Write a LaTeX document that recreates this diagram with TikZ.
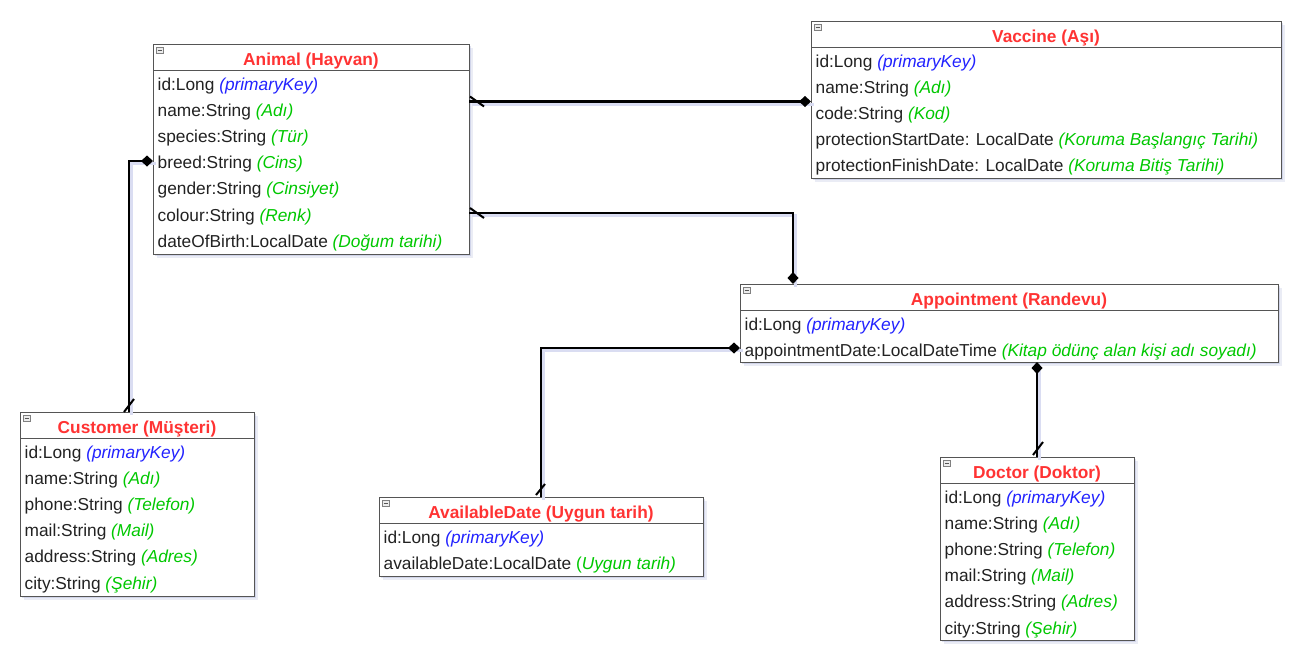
\documentclass[tikz,border=0pt]{standalone}
\usepackage{fontspec}
\setmainfont{Liberation Sans}
\usetikzlibrary{arrows.meta,calc,shadows}

\definecolor{hdrred}{HTML}{FF3333}
\definecolor{keyblue}{HTML}{2222FF}
\definecolor{cmtgreen}{HTML}{00C800}
\definecolor{ink}{HTML}{222222}
\definecolor{edgegray}{HTML}{555555}
\definecolor{shade}{HTML}{8C96C8}
\definecolor{lineshade}{HTML}{DADDF2}

% attribute annotations
\newcommand\pk{\textcolor{keyblue}{\itshape(primaryKey)}}
\newcommand\cm[1]{\textcolor{cmtgreen}{\itshape(#1)}}

\tikzset{
  box/.style={draw=edgegray, line width=0.9pt, fill=white, inner sep=0pt, outer sep=0pt,
    drop shadow={shadow xshift=4pt, shadow yshift=-4pt, fill=shade, opacity=0.18},
    drop shadow={shadow xshift=2pt, shadow yshift=-2pt, fill=shade, opacity=0.28}},
  hdr/.style={anchor=base, inner sep=0pt, text=hdrred, font=\fontsize{17.3}{20}\selectfont\bfseries},
  attr/.style={anchor=base west, inner sep=0pt, text=ink, font=\fontsize{17.3}{20}\selectfont},
  icon/.style={draw=gray, fill=gray!15, line width=0.6pt},
  conn/.style={draw=black, line width=2.6pt},
  connshadow/.style={draw=lineshade, line width=3pt, transform canvas={shift={(2.5pt,-2.5pt)}}},
  tickmark/.style={draw=black, line width=2pt},
  comp/.style={-{Diamond[length=12pt,width=11pt]}},
}

% entity: name, left, top, width, height, title, attribute rows
\newcommand\entity[7]{%
  \node[box, minimum width=#4pt, minimum height=#5pt, anchor=north west] (#1) at (#2,#3) {};
  \draw[edgegray, line width=0.9pt] ($(#1.north west)+(0,26)$) -- ($(#1.north east)+(0,26)$);
  \draw[icon] ($(#1.north west)+(3,3)$) rectangle ++(7,6);
  \draw[edgegray, line width=0.8pt] ($(#1.north west)+(4.5,6)$) -- ++(4,0);
  \node[hdr] at ($(#1.north)+(0,21)$) {#6};
  \foreach \r [count=\i from 0] in {#7}
    \node[attr] at ($(#1.north west)+(4.5,{46+26.2*\i})$) {\r};
}

% connector with a soft offset shadow underneath
\newcommand\link[1]{%
  \draw[connshadow] #1;
  \draw[conn, comp] #1;
}

\begin{document}
\begin{tikzpicture}[x=1pt,y=-1pt]
\useasboundingbox (0,0) rectangle (1308,654);

\entity{animal}{153}{44}{316}{210}{Animal (Hayvan)}{
  {id:Long \pk},
  {name:String \cm{Adı}},
  {species:String \cm{Tür}},
  {breed:String \cm{Cins}},
  {gender:String \cm{Cinsiyet}},
  {colour:String \cm{Renk}},
  {dateOfBirth:LocalDate \cm{Doğum tarihi}}}

\entity{vac}{811}{21}{470}{157}{Vaccine (Aşı)}{
  {id:Long \pk},
  {name:String \cm{Adı}},
  {code:String \cm{Kod}},
  {protectionStartDate: LocalDate \cm{Koruma Başlangıç Tarihi}},
  {protectionFinishDate: LocalDate \cm{Koruma Bitiş Tarihi}}}

\entity{appt}{740}{284}{538}{78}{Appointment (Randevu)}{
  {id:Long \pk},
  {appointmentDate:LocalDateTime \cm{Kitap ödünç alan kişi adı soyadı}}}

\entity{cust}{20}{412}{234}{184}{Customer (Müşteri)}{
  {id:Long \pk},
  {name:String \cm{Adı}},
  {phone:String \cm{Telefon}},
  {mail:String \cm{Mail}},
  {address:String \cm{Adres}},
  {city:String \cm{Şehir}}}

\entity{avail}{379}{497}{324}{79}{AvailableDate (Uygun tarih)}{
  {id:Long \pk},
  {availableDate:LocalDate \textcolor{cmtgreen}{(\textit{Uygun tarih)}}}}

\entity{doc}{940}{457}{194}{183}{Doctor (Doktor)}{
  {id:Long \pk},
  {name:String \cm{Adı}},
  {phone:String \cm{Telefon}},
  {mail:String \cm{Mail}},
  {address:String \cm{Adres}},
  {city:String \cm{Şehir}}}

% Animal -- Vaccine
\link{([yshift=-2pt]animal.east |- vac.west) -- ([yshift=-2pt]vac.west)}
\draw[tickmark] ($([yshift=-2pt]animal.east |- vac.west)+(1,-5)$) -- ++(14,10);

% Animal -- Appointment
\link{([yshift=-169pt]animal.north east) -| ([xshift=53pt]appt.north west)}
\draw[tickmark] ($([yshift=-169pt]animal.north east)+(1,-5)$) -- ++(14,10);

% Customer -- Animal
\link{([xshift=-8pt]cust.north) |- ([yshift=-117pt]animal.north west)}
\draw[tickmark] ($([xshift=-8pt]cust.north)+(-5,0)$) -- ++(10,-13);

% AvailableDate -- Appointment
\link{(avail.north) |- ([yshift=-64pt]appt.north west)}
\draw[tickmark] ($(avail.north)+(-5,-2)$) -- ++(9,-11);

% Doctor -- Appointment
\link{(doc.north) -- (doc.north |- appt.south)}
\draw[tickmark] ($(doc.north)+(-4,-2)$) -- ++(10,-13);

\end{tikzpicture}
\end{document}
